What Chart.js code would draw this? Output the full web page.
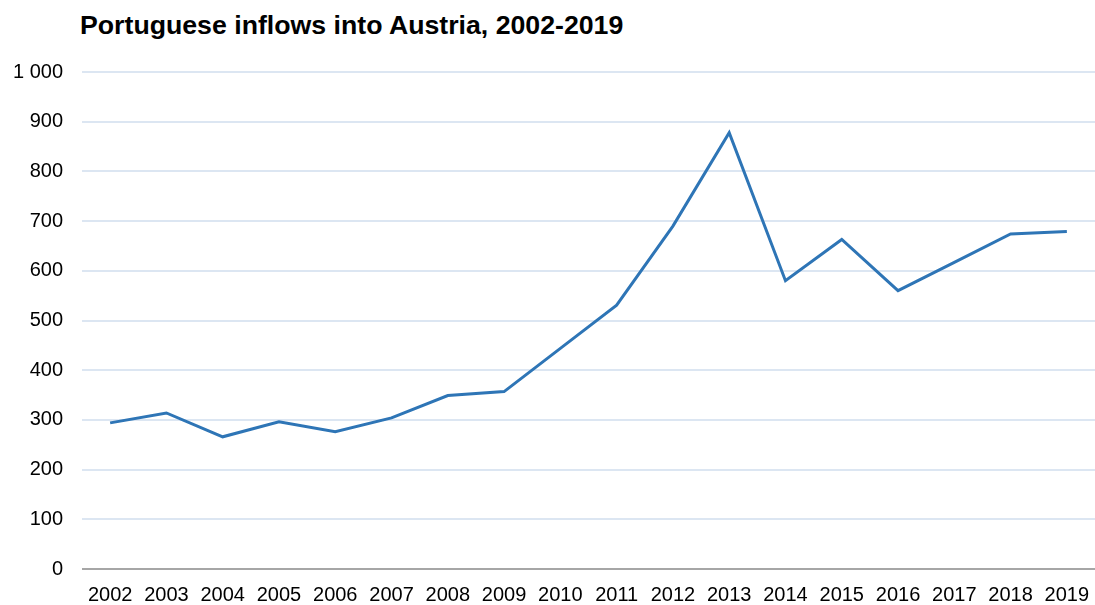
<!DOCTYPE html>
<html>
<head>
<meta charset="utf-8">
<script src="https://cdn.jsdelivr.net/npm/chart.js@4.4.0/dist/chart.umd.min.js"></script>
<style>
body{margin:0;background:#fff;}
#wrap{position:relative;width:1095px;height:605px;}
#title{position:absolute;left:80px;top:12px;font:bold 26.7px/26px 'Liberation Sans',Arial,sans-serif;color:#000;white-space:nowrap;}
canvas{position:absolute;left:0;top:0;}
</style>
</head>
<body>
<div id="wrap">
  <div id="title">Portuguese inflows into Austria, 2002-2019</div>
  <canvas id="chart" width="1095" height="605"></canvas>
</div>
<script>
// years on the x axis
let years = ['2002','2003','2004','2005','2006','2007','2008','2009','2010',
  '2011','2012','2013','2014','2015','2016','2017','2018','2019'];
// inflows
let inflows = [294, 314, 266, 296, 276, 304, 349, 357, 444,
  531, 690, 878, 580, 663, 560, 617, 674, 679];
let yTicks = [0, 100, 200, 300, 400, 500, 600, 700, 800, 900, 1000];

let fontFam = "'Liberation Sans', Arial, sans-serif";

function fmt(v){
    return String(v).replace(/\B(?=(\d{3})+(?!\d))/g, ' ');
}

new Chart(document.getElementById('chart').getContext('2d'), {
    type: 'line',
    data: {
        labels: years,
        datasets: [{
            data: inflows,
            borderColor: '#2e75b6',
            borderWidth: 3,
            pointRadius: 0,
            tension: 0,
            fill: false
        }]
    },
    options: {
        responsive: false,
        animation: false,
        layout: {padding: {top: 72, right: 0, bottom: 0, left: 0}},
        plugins: {legend: {display: false}, tooltip: {enabled: false}, title: {display: false}},
        scales: {
            x: {
                offset: true,
                grid: {display: false, drawTicks: false},
                border: {display: false},
                ticks: {color: '#000', font: {family: fontFam, size: 20}, padding: 14, maxRotation: 0, autoSkip: false},
                afterFit(s){
                    s.height = 36;
                    s.paddingLeft = 0;
                    s.paddingRight = 0;
                }
            },
            y: {
                min: 0, max: 1000,
                afterBuildTicks(s){ s.ticks = yTicks.map(v => ({value: v})); },
                grid: {
                    drawTicks: false,
                    lineWidth: 2,
                    color: c => c.tick && c.tick.value === 0 ? '#a6a6a6' : '#dce6f2'
                },
                border: {display: false},
                ticks: {color: '#000', font: {family: fontFam, size: 20}, padding: 19, callback: v => fmt(v)},
                afterFit(s){ s.width = 82; }
            }
        }
    }
});
</script>
</body>
</html>
